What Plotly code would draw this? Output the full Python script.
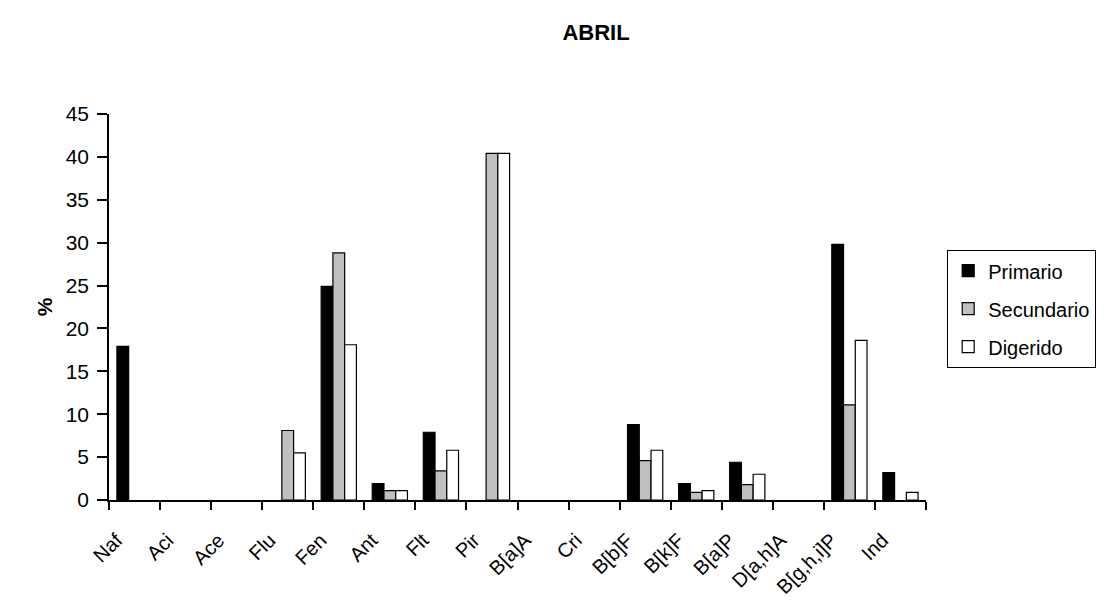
import plotly.graph_objects as go

categories = ["Naf", "Aci", "Ace", "Flu", "Fen", "Ant", "Flt", "Pir", "B[a]A", "Cri",
              "B[b]F", "B[k]F", "B[a]P", "D[a,h]A", "B[g,h,i]P", "Ind"]
# None = no bar drawn (value absent / zero)
primario =   [17.9, None, None, None, 24.9, 1.9, 7.9, None, None, None, 8.8, 1.9, 4.4, None, 29.8, 3.2]
secundario = [None, None, None, 8.1,  28.8, 1.1, 3.4, 40.4, None, None, 4.6, 0.9, 1.8, None, 11.1, None]
digerido =   [None, None, None, 5.5,  18.1, 1.1, 5.8, 40.4, None, None, 5.8, 1.1, 3.0, None, 18.6, 0.9]

series = [("Primario", primario, "#000000"),
          ("Secundario", secundario, "#C0C0C0"),
          ("Digerido", digerido, "#FFFFFF")]

fig = go.Figure()
for name, vals, col in series:
    fig.add_trace(go.Bar(
        x=categories, y=vals, name=name, legendgroup=name,
        marker=dict(color=col, line=dict(color="#000000", width=1.2)),
    ))

# page has an 8px body margin, so figure coords = page coords - 8
fig.update_layout(
    width=1117, height=614,
    paper_bgcolor="white", plot_bgcolor="white",
    margin=dict(l=101, r=199, t=106, b=122, autoexpand=False),
    barmode="group", bargap=0.31, bargroupgap=0,
    font=dict(family="Arial, Liberation Sans, sans-serif", color="black"),
    title=dict(text="<b>ABRIL</b>", x=588/1117, xanchor="center", y=1-24/614, yanchor="middle",
               font=dict(size=22, color="black")),
    xaxis=dict(
        type="category", tickson="boundaries", ticks="outside", ticklen=8, tickwidth=1.5,
        tickcolor="black", showline=True, linecolor="black", linewidth=1.5,
        tickangle=-45, tickfont=dict(size=20), showgrid=False,
        ticklabelshift=-18, ticklabelstandoff=19, automargin=False,
    ),
    yaxis=dict(
        range=[0, 45], dtick=5, ticks="outside", ticklen=10, tickwidth=1.5, tickcolor="black",
        showline=True, linecolor="black", linewidth=1.5, showgrid=False, zeroline=False,
        tickfont=dict(size=21), automargin=False, ticklabelstandoff=4,
        title=dict(text="<b>%</b>", font=dict(size=21), standoff=7),
    ),
    legend=dict(
        x=(939-101)/817, y=(492-242)/386, xanchor="left", yanchor="top",
        bordercolor="black", borderwidth=1.2, font=dict(size=20),
        tracegroupgap=9, itemwidth=30,
    ),
)

fig.write_html("out.html")
